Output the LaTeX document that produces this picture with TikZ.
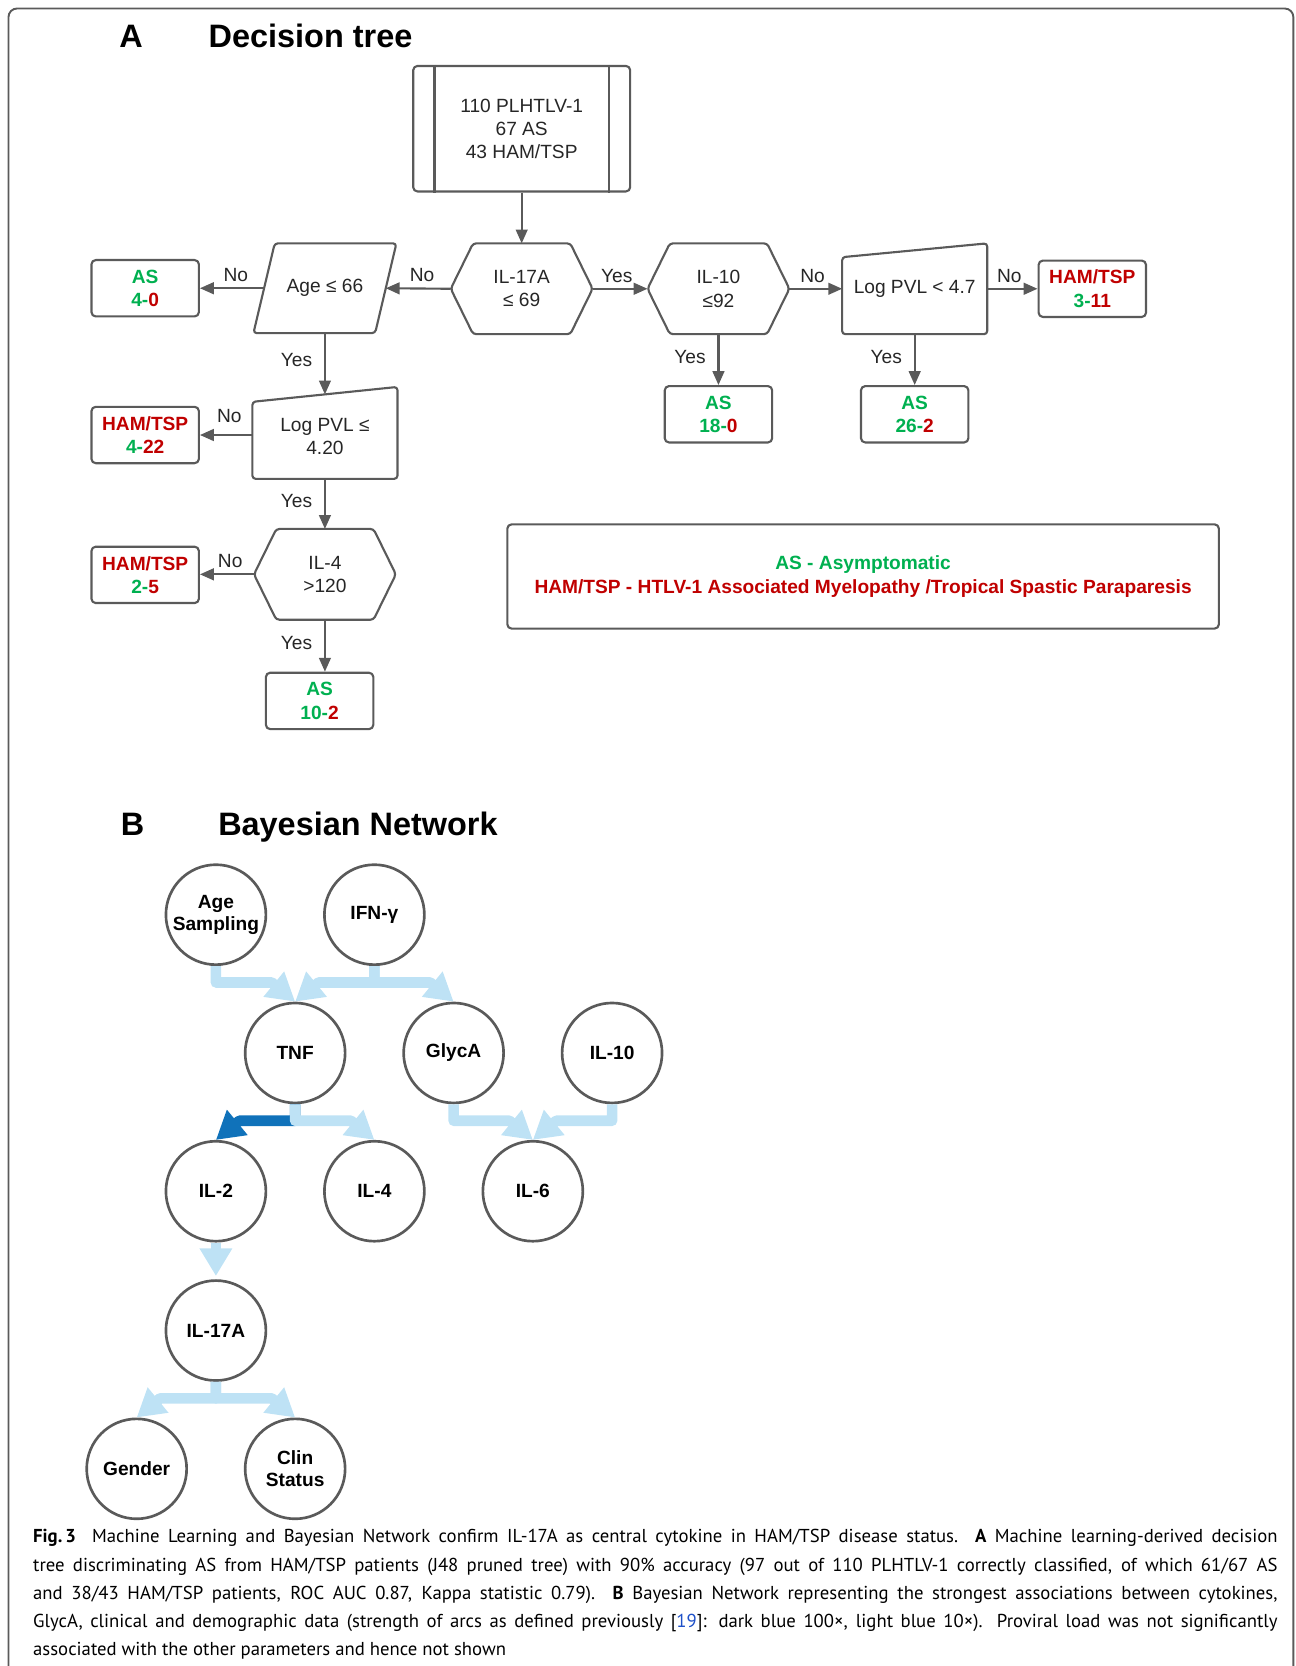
\documentclass[tikz,border=0pt]{standalone}
\usepackage{fontspec}
\setmainfont{Liberation Sans}
\newfontfamily\capfont{PT Sans}
\usetikzlibrary{arrows.meta,calc}
\definecolor{asgreen}{RGB}{0,176,80}
\definecolor{hamred}{RGB}{192,0,0}
\definecolor{shapegray}{RGB}{90,90,90}
\definecolor{bnlight}{RGB}{190,226,245}
\definecolor{bndark}{RGB}{16,114,186}
\definecolor{refblue}{RGB}{30,80,200}
\newcommand{\cnt}[2]{\textcolor{asgreen}{#1-}\textcolor{hamred}{#2}}
\begin{document}
\begin{tikzpicture}[x=1pt, y=-1pt, line join=round, >={Triangle[length=13pt,width=11pt]},
	dline/.style={draw=shapegray, line width=2pt},
	darr/.style={dline, ->},
	lbl/.style={font=\fontsize{18}{22}\selectfont, text=black!85, inner sep=3pt, pos=0.44},
	decision/.style={minimum width=133pt, minimum height=85pt, inner sep=0pt, align=center, text=black!85, font=\fontsize{18}{22}\selectfont},
	leaf/.style={dline, rounded corners=4pt, minimum width=101pt, minimum height=53pt, inner sep=0pt, align=center, font=\bfseries\fontsize{18}{22}\selectfont},
	paneltitle/.style={anchor=base west, inner sep=0pt, font=\bfseries\fontsize{30.5}{36}\selectfont},
	bn/.style={circle, draw=shapegray, line width=2.5pt, minimum size=94pt, inner sep=0pt, align=center, font=\bfseries\fontsize{18}{21}\selectfont},
	bnedge/.style={draw=bnlight, line width=10pt, -{Triangle[length=26pt,width=29pt]}},
	capline/.style={anchor=base west, inner sep=0pt, font=\capfont\fontsize{17.6}{20}\selectfont}]
	\useasboundingbox (0,0) rectangle (1217.6,1566.4);
	\draw[draw=shapegray, line width=1.8pt, rounded corners=8pt] (8,1600) -- (8,8) -- (1216,8) -- (1216,1600);
	
	\node[paneltitle] (ta) at (112,44.5) {A};
	\node[paneltitle] (tdec) at (196,44.5) {Decision tree};
	\node[paneltitle] (tb) at (113.5,786) {B};
	\node[paneltitle] (tbn) at (205,786) {Bayesian Network};
	
	% decision tree
	\node[dline, rounded corners=4pt, minimum width=204pt, minimum height=118pt, align=center, text=black!85,
	font=\fontsize{18}{21.5}\selectfont] (root) at (490.5,121) {110 PLHTLV-1\\67 AS\\43 HAM/TSP};
	\draw[dline] ([xshift=21pt]root.north west) -- ([xshift=21pt]root.south west)
	([xshift=-21pt]root.north east) -- ([xshift=-21pt]root.south east);
	
	\node[decision] (il17) at (490.5,271.5) {IL-17A\\≤ 69};
	\node[decision] (il10) at (675.5,271.5) {IL-10\\≤92};
	\node[decision] (il4) at (305.5,540) {IL-4\\>120};
	\node[decision, minimum width=134pt, minimum height=84pt] (age) at (305.5,271) {Age ≤ 66};
	\node[decision, minimum width=136pt, minimum height=79pt] (lpv1) at (305.5,410.5) {Log PVL ≤\\4.20};
	\node[decision, minimum width=136pt, minimum height=85pt] (lpv2) at (860,271.5) {Log PVL < 4.7};
	
	\foreach \n in {il17,il10,il4}
	\draw[dline, rounded corners=3pt] (\n.west) -- ([xshift=21pt]\n.north west) -- ([xshift=-21pt]\n.north east)
	-- (\n.east) -- ([xshift=-21pt]\n.south east) -- ([xshift=21pt]\n.south west) -- cycle;
	\draw[dline, rounded corners=3pt] ([xshift=20pt]age.north west) -- (age.north east)
	-- ([xshift=-20pt]age.south east) -- (age.south west) -- cycle;
	\draw[dline, rounded corners=3pt] (lpv1.south west) -- ([yshift=-7pt]lpv1.north west)
	-- ([yshift=7pt]lpv1.north east) -- (lpv1.south east) -- cycle;
	\draw[dline, rounded corners=3pt] (lpv2.south west) -- ([yshift=-13pt]lpv2.north west)
	-- (lpv2.north east) -- (lpv2.south east) -- cycle;
	
	\foreach \n/\x/\y/\a/\b in {as1/136.5/271/4/0, as2/675.5/389.5/18/0, as3/860/389.5/26/2, as4/300.5/659/10/2}
	\node[leaf] (\n) at (\x,\y) {\textcolor{asgreen}{AS}\\\cnt{\a}{\b}};
	\foreach \n/\x/\y/\a/\b in {ham1/1027/271.5/3/11, ham2/136.5/409/4/22, ham3/136.5/540.5/2/5}
	\node[leaf] (\n) at (\x,\y) {\textcolor{hamred}{HAM/TSP}\\\cnt{\a}{\b}};
	
	\draw[darr] (root.south) -- (il17.north);
	\draw[darr] (il17.west) -- node[lbl, above=2pt] {No} ([xshift=-10pt]age.east);
	\draw[darr] ([xshift=10pt]age.west) -- node[lbl, above=2pt] {No} (as1.east);
	\draw[darr] (age.south) -- node[lbl, left=8pt] {Yes} (lpv1.north);
	\draw[darr] (lpv1.west |- ham2.east) -- node[lbl, above=8pt] {No} (ham2.east);
	\draw[darr] (lpv1.south) -- node[lbl, left=8pt] {Yes} (il4.north);
	\draw[darr] (il4.west) -- node[lbl, above=2pt] {No} (il4.west -| ham3.east);
	\draw[darr] (il4.south) -- node[lbl, left=8pt] {Yes} (il4.south |- as4.north);
	\draw[darr] (il17.east) -- node[lbl, above=2pt] {Yes} (il10.west);
	\draw[darr] (il10.south) -- node[lbl, left=8pt] {Yes} (as2.north);
	\draw[darr] (il10.east) -- node[lbl, above=2pt] {No} (lpv2.west);
	\draw[darr] (lpv2.east) -- node[lbl, above=2pt] {No} (ham1.west);
	\draw[darr] (lpv2.south) -- node[lbl, left=8pt] {Yes} (as3.north);
	
	\node[dline, rounded corners=4pt, minimum width=669pt, minimum height=98pt, align=center,
	font=\bfseries\fontsize{18}{22}\selectfont] (legend) at (811.5,542)
	{\textcolor{asgreen}{AS - Asymptomatic}\\\textcolor{hamred}{HAM/TSP - HTLV-1 Associated Myelopathy /Tropical Spastic Paraparesis}};
	
	% bayesian network
	\foreach \n/\x/\y/\t in {bage/203/860/{Age\\Sampling}, bifn/352/860/IFN-γ, btnf/277.5/990/TNF,
		bglyc/426.5/990/GlycA, bil10/575.5/990/IL-10, bil2/203/1120/IL-2, bil4/352/1120/IL-4,
		bil6/501/1120/IL-6, bil17/203/1251/IL-17A, bgen/128.5/1381/Gender, bclin/277.5/1381/{Clin\\Status}}
	\node[bn] (\n) at (\x,\y) {\t};
	
	\draw[bnedge, draw=bndark] (btnf.south) |- ($(bil2.north)+(22,-18)$) -- (bil2.north);
	\foreach \s/\d/\sx in {bage/btnf/-22, bifn/btnf/22, bifn/bglyc/-22, btnf/bil4/-22,
		bglyc/bil6/-22, bil10/bil6/22, bil17/bgen/22, bil17/bclin/-22}
	\draw[bnedge] (\s.south) |- ($(\d.north)+(\sx,-18)$) -- (\d.north);
	\draw[bnedge, shorten >=3pt] (bil2.south) -- (bil17.north);
	
	% caption
	\node[capline] (cap1) at (31,1450.7) {\makebox[1170pt][s]{\textbf{\mbox{Fig.\,3}}\hspace{0.4em} Machine Learning and Bayesian Network confirm IL-17A as central cytokine in HAM/TSP disease status. \textbf{A} Machine learning-derived decision}};
	\node[capline] (cap2) at (31,1477.6) {\makebox[1170pt][s]{tree discriminating AS from HAM/TSP patients (J48 pruned tree) with 90\% accuracy (97 out of 110 PLHTLV-1 correctly classified, of which 61/67 AS}};
	\node[capline] (cap3) at (31,1504.3) {\makebox[1170pt][s]{and 38/43 HAM/TSP patients, ROC AUC 0.87, Kappa statistic 0.79). \textbf{B} Bayesian Network representing the strongest associations between cytokines,}};
	\node[capline] (cap4) at (31,1530.6) {\makebox[1170pt][s]{GlycA, clinical and demographic data (strength of arcs as defined previously [\textcolor{refblue}{19}]: dark blue 100×, light blue 10×). Proviral load was not significantly}};
	\node[capline] (cap5) at (31,1556.9) {associated with the other parameters and hence not shown};
\end{tikzpicture}
\end{document}
